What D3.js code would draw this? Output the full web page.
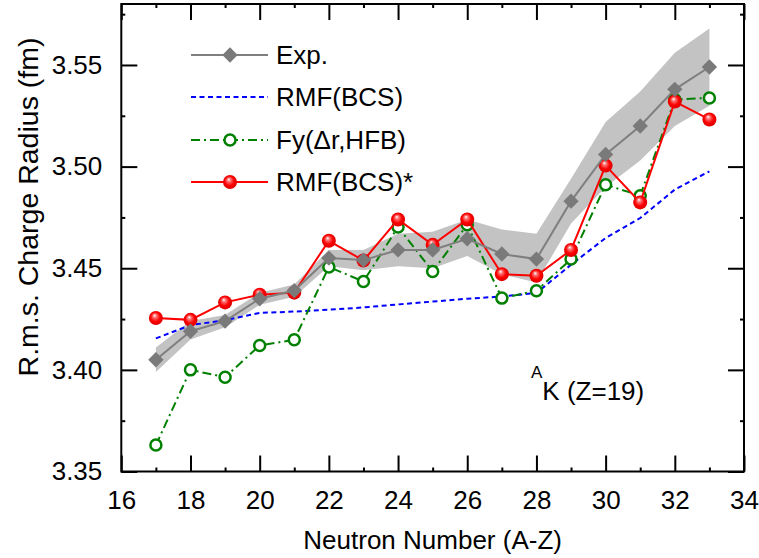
<!DOCTYPE html>
<html>
<head>
<meta charset="utf-8">
<script src="https://cdn.jsdelivr.net/npm/d3@7/dist/d3.min.js"></script>
<style>
  body { margin: 0; background: #fff; }
  text { font-family: Arial, "Liberation Sans", sans-serif; }
</style>
</head>
<body>
<svg id="chart" width="759" height="558"></svg>
<script>
// neutron numbers
let neutrons = [17, 18, 19, 20, 21, 22, 23, 24, 25, 26, 27, 28, 29, 30, 31, 32, 33]

let expValues = [3.405, 3.419, 3.424, 3.435, 3.439, 3.455, 3.454, 3.459, 3.459, 3.4645, 3.457, 3.4545, 3.483, 3.506, 3.520, 3.538, 3.549]
let expUpper = [3.411, 3.424, 3.427, 3.438, 3.442, 3.459, 3.459, 3.467, 3.468, 3.474, 3.469, 3.467, 3.494, 3.522, 3.537, 3.556, 3.568]
let expLower = [3.399, 3.415, 3.421, 3.432, 3.436, 3.451, 3.449, 3.451, 3.450, 3.456, 3.447, 3.443, 3.472, 3.490, 3.503, 3.520, 3.530]

let rmfBcs = [3.4155, 3.422, 3.4245, 3.428, 3.4287, 3.4296, 3.4307, 3.4322, 3.4336, 3.435, 3.4361, 3.4378, 3.4517, 3.4649, 3.4747, 3.4887, 3.4977]
let fyHfb = [3.363, 3.400, 3.3964, 3.412, 3.4148, 3.4506, 3.4435, 3.4703, 3.4484, 3.4714, 3.4353, 3.4389, 3.4545, 3.4911, 3.4857, 3.533, 3.5338]
let rmfStar = [3.4255, 3.4246, 3.4332, 3.437, 3.438, 3.4635, 3.4538, 3.474, 3.4615, 3.474, 3.4471, 3.4463, 3.459, 3.5005, 3.4824, 3.532, 3.5232]

let xTicks = [16, 18, 20, 22, 24, 26, 28, 30, 32, 34]
let xMinor = [17, 19, 21, 23, 25, 27, 29, 31, 33]
let yTicks = [3.35, 3.40, 3.45, 3.50, 3.55]
let yMinor = [3.375, 3.425, 3.475, 3.525, 3.575]

let legendNames = ['Exp.', 'RMF(BCS)', 'Fy(\u0394r,HFB)', 'RMF(BCS)*']

let svg = d3.select('#chart')

let x = d3.scaleLinear().domain([16, 34]).range([121.3, 744])
let y = d3.scaleLinear().domain([3.35, 3.58]).range([471.5, 4])

// gradient for the shiny red balls
let defs = svg.append('defs')
let grad = defs.append('radialGradient')
    .attr('id', 'redball')
    .attr('cx', '50%').attr('cy', '50%').attr('r', '55%')
    .attr('fx', '40%').attr('fy', '30%')
grad.append('stop').attr('offset', '0%').attr('stop-color', '#ffffff')
grad.append('stop').attr('offset', '25%').attr('stop-color', '#ff7070')
grad.append('stop').attr('offset', '60%').attr('stop-color', '#ff0000')
grad.append('stop').attr('offset', '100%').attr('stop-color', '#d40000')

let rows = neutrons.map((n, i) => {
    return {n: n, exp: expValues[i], hi: expUpper[i], lo: expLower[i],
            rmf: rmfBcs[i], fy: fyHfb[i], star: rmfStar[i]}
})

// uncertainty band
let band = d3.area()
    .x((d) => x(d.n))
    .y0((d) => y(d.lo))
    .y1((d) => y(d.hi))
svg.append('path')
    .datum(rows)
    .attr('d', band)
    .attr('fill', '#c3c3c3')

// RMF(BCS) dashed
svg.append('path')
    .datum(rows)
    .attr('d', d3.line().x((d) => x(d.n)).y((d) => y(d.rmf)))
    .attr('fill', 'none')
    .attr('stroke', '#0000ff')
    .attr('stroke-width', 2)
    .attr('stroke-dasharray', '5,3.5')

// Fy dash-dot
svg.append('path')
    .datum(rows)
    .attr('d', d3.line().x((d) => x(d.n)).y((d) => y(d.fy)))
    .attr('fill', 'none')
    .attr('stroke', '#008000')
    .attr('stroke-width', 2)
    .attr('stroke-dasharray', '9,4,2,4')

svg.selectAll('.fy')
    .data(rows)
    .enter()
    .append('circle')
    .attr('class', 'fy')
    .attr('cx', (d) => x(d.n))
    .attr('cy', (d) => y(d.fy))
    .attr('r', 5.5)
    .attr('fill', '#fff')
    .attr('stroke', '#008000')
    .attr('stroke-width', 2.5)

// RMF(BCS)*
svg.append('path')
    .datum(rows)
    .attr('d', d3.line().x((d) => x(d.n)).y((d) => y(d.star)))
    .attr('fill', 'none')
    .attr('stroke', '#ff0000')
    .attr('stroke-width', 2)

svg.selectAll('.star')
    .data(rows)
    .enter()
    .append('circle')
    .attr('class', 'star')
    .attr('cx', (d) => x(d.n))
    .attr('cy', (d) => y(d.star))
    .attr('r', 7)
    .attr('fill', 'url(#redball)')

// Exp.
svg.append('path')
    .datum(rows)
    .attr('d', d3.line().x((d) => x(d.n)).y((d) => y(d.exp)))
    .attr('fill', 'none')
    .attr('stroke', '#7f7f7f')
    .attr('stroke-width', 2)

let diamond = d3.symbol().type(d3.symbolDiamond2).size(150)
svg.selectAll('.exp')
    .data(rows)
    .enter()
    .append('path')
    .attr('class', 'exp')
    .attr('d', diamond)
    .attr('transform', (d) => 'translate(' + x(d.n) + ',' + y(d.exp) + ')')
    .attr('fill', '#7a7a7a')

// axes
let styleAxis = function(g) {
    g.select('.domain').remove()
    g.selectAll('line').attr('stroke', '#000').attr('stroke-width', 2)
    g.selectAll('text').attr('font-size', 26).attr('fill', '#000')
}

svg.append('g')
    .attr('transform', 'translate(0,471.5)')
    .call(d3.axisBottom(x).tickValues(xTicks).tickSize(-16).tickPadding(19).tickFormat(d3.format('d')))
    .call(styleAxis)
svg.append('g')
    .attr('transform', 'translate(0,471.5)')
    .call(d3.axisBottom(x).tickValues(xMinor).tickSize(-4).tickFormat(''))
    .call(styleAxis)
svg.append('g')
    .attr('transform', 'translate(0,4)')
    .call(d3.axisTop(x).tickValues(xTicks).tickSize(-16).tickFormat(''))
    .call(styleAxis)
svg.append('g')
    .attr('transform', 'translate(0,4)')
    .call(d3.axisTop(x).tickValues(xMinor).tickSize(-4).tickFormat(''))
    .call(styleAxis)

svg.append('g')
    .attr('transform', 'translate(121.3,0)')
    .call(d3.axisLeft(y).tickValues(yTicks).tickSize(-16).tickPadding(19).tickFormat(d3.format('.2f')))
    .call(styleAxis)
svg.append('g')
    .attr('transform', 'translate(121.3,0)')
    .call(d3.axisLeft(y).tickValues(yMinor).tickSize(-4).tickFormat(''))
    .call(styleAxis)
svg.append('g')
    .attr('transform', 'translate(744,0)')
    .call(d3.axisRight(y).tickValues(yTicks).tickSize(-16).tickFormat(''))
    .call(styleAxis)
svg.append('g')
    .attr('transform', 'translate(744,0)')
    .call(d3.axisRight(y).tickValues(yMinor).tickSize(-4).tickFormat(''))
    .call(styleAxis)

// frame
svg.append('rect')
    .attr('x', x(16)).attr('y', y(3.58))
    .attr('width', x(34) - x(16)).attr('height', y(3.35) - y(3.58))
    .attr('fill', 'none').attr('stroke', '#000').attr('stroke-width', 2)

// axis titles
svg.append('text')
    .attr('x', (x(16) + x(34)) / 2)
    .attr('y', 549)
    .attr('text-anchor', 'middle')
    .attr('font-size', 26)
    .text('Neutron Number (A-Z)')

svg.append('text')
    .attr('transform', 'translate(38,207) rotate(-90)')
    .attr('text-anchor', 'middle')
    .attr('font-size', 28.5)
    .text('R.m.s. Charge Radius (fm)')

// nucleus label
let nuc = svg.append('text').attr('x', 531).attr('y', 400).attr('font-size', 26)
nuc.append('tspan').attr('font-size', 17).attr('dy', -22).text('A')
nuc.append('tspan').attr('dy', 22).text('K (Z=19)')

// legend
let legendY = [55, 97, 140, 182]
let lx0 = 191, lx1 = 268, lmid = 230

let leg = svg.append('g')
leg.append('line').attr('x1', lx0).attr('x2', lx1).attr('y1', legendY[0]).attr('y2', legendY[0])
    .attr('stroke', '#7f7f7f').attr('stroke-width', 2)
leg.append('path').attr('d', diamond).attr('transform', 'translate(' + lmid + ',' + legendY[0] + ')').attr('fill', '#7a7a7a')

leg.append('line').attr('x1', lx0).attr('x2', lx1).attr('y1', legendY[1]).attr('y2', legendY[1])
    .attr('stroke', '#0000ff').attr('stroke-width', 2).attr('stroke-dasharray', '5,3.5')

leg.append('line').attr('x1', lx0).attr('x2', lx1).attr('y1', legendY[2]).attr('y2', legendY[2])
    .attr('stroke', '#008000').attr('stroke-width', 2).attr('stroke-dasharray', '9,4,2,4')
leg.append('circle').attr('cx', lmid).attr('cy', legendY[2]).attr('r', 5.5)
    .attr('fill', '#fff').attr('stroke', '#008000').attr('stroke-width', 2.5)

leg.append('line').attr('x1', lx0).attr('x2', lx1).attr('y1', legendY[3]).attr('y2', legendY[3])
    .attr('stroke', '#ff0000').attr('stroke-width', 2)
leg.append('circle').attr('cx', lmid).attr('cy', legendY[3]).attr('r', 7).attr('fill', 'url(#redball)')

leg.selectAll('.ltext')
    .data(legendNames)
    .enter()
    .append('text')
    .attr('class', 'ltext')
    .attr('x', 276)
    .attr('y', (d, i) => legendY[i] + 9)
    .attr('font-size', 26)
    .text((d) => d)
</script>
</body>
</html>
